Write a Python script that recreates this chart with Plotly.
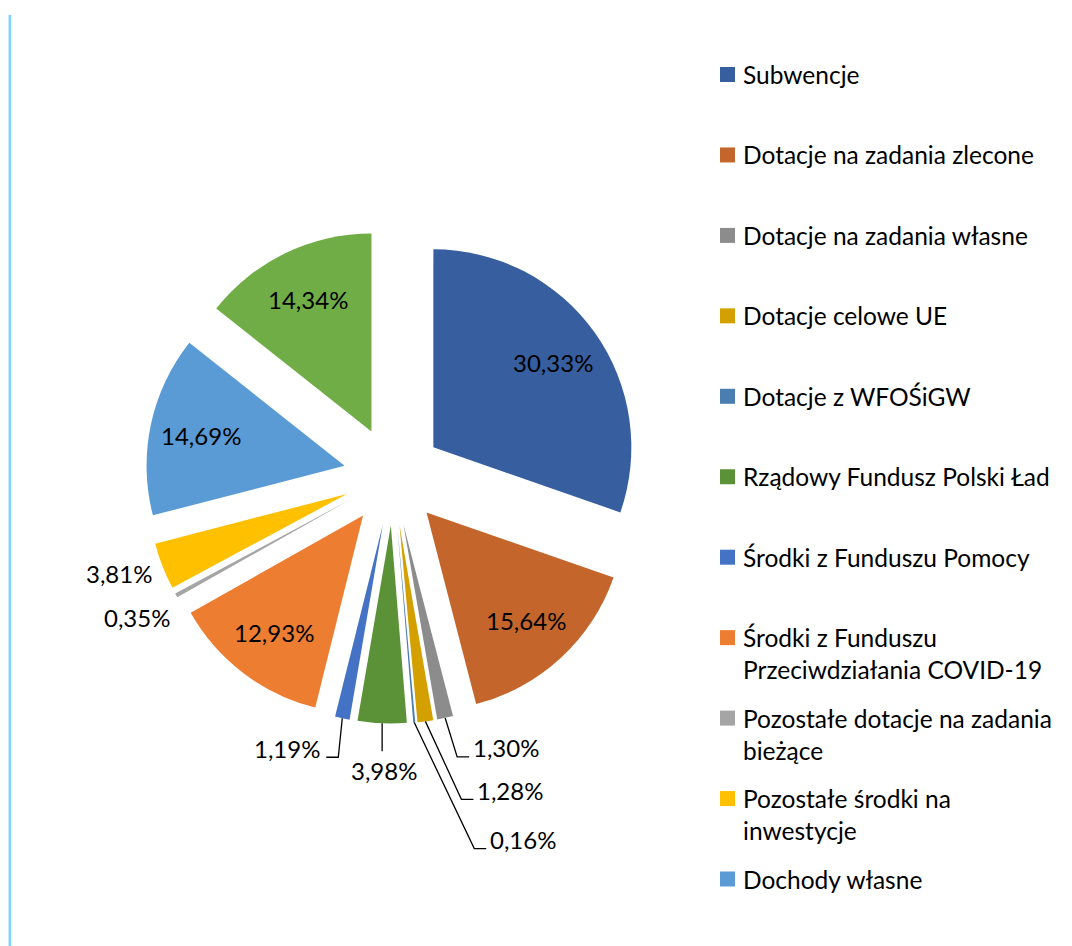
import math
import plotly.graph_objects as go

# dane (udział w dochodach, %)
kategorie = [
    'Subwencje',
    'Dotacje na zadania zlecone',
    'Dotacje na zadania własne',
    'Dotacje celowe UE',
    'Dotacje z WFOŚiGW',
    'Rządowy Fundusz Polski Ład',
    'Środki z Funduszu Pomocy',
    'Środki z Funduszu Przeciwdziałania COVID-19',
    'Pozostałe dotacje na zadania bieżące',
    'Pozostałe środki na inwestycje',
    'Dochody własne',
    'Pozostałe dochody',
]
udzialy = [30.33, 15.64, 1.30, 1.28, 0.16, 3.98, 1.19, 12.93, 0.35, 3.81, 14.69, 14.34]

# wpisy legendy (wiersze jak w oryginale), ostatni wycinek bez wpisu
legenda = [
    ['Subwencje'],
    ['Dotacje na zadania zlecone'],
    ['Dotacje na zadania własne'],
    ['Dotacje celowe UE'],
    ['Dotacje z WFOŚiGW'],
    ['Rządowy Fundusz Polski Ład'],
    ['Środki z Funduszu Pomocy'],
    ['Środki z Funduszu', 'Przeciwdziałania COVID-19'],
    ['Pozostałe dotacje na zadania', 'bieżące'],
    ['Pozostałe środki na', 'inwestycje'],
    ['Dochody własne'],
]

kolory = ['#375E9F', '#C4662B', '#8C8C8C', '#D4A000', '#4A7EB0', '#5B9238',
          '#4472C4', '#ED7D31', '#A5A5A5', '#FFC000', '#5B9BD5', '#70AD47']

W, H = 1072, 946
FONT = 'Lato'

# geometria koła (piksele)
CX, CY = 385, 468
R_DOM = 247.5
PULL = 0.25
R = R_DOM / (1 + PULL)

# etykiety poza wycinkiem: przesunięcie środka tekstu względem zewnętrznego punktu wycinka,
# oraz rodzaj linii odniesienia
etykiety_zew = {
    2: (61, 30, 'prawo'),
    3: (85, 69, 'prawo'),
    4: (109, 117, 'prawo'),
    5: (2, 47, 'dol'),
    6: (-55, 30, 'lewo'),
    8: (-39, 22, None),
    9: (-44, 7, None),
}


def px(x):
    return x / W


def py(y):
    return 1 - y / H


fig = go.Figure(go.Pie(
    labels=kategorie,
    values=udzialy,
    sort=False,
    direction='clockwise',
    rotation=0,
    pull=PULL,
    marker=dict(colors=kolory, line=dict(width=0)),
    textinfo='none',
    domain=dict(x=[px(CX - R_DOM), px(CX + R_DOM)],
                y=[py(CY + R_DOM), py(CY - R_DOM)]),
    automargin=False,
    showlegend=False,
))

# etykiety danych
suma = sum(udzialy)
kum = 0
for i, u in enumerate(udzialy):
    kat = math.radians((kum + u / 2) / suma * 360)
    kum += u
    dx, dy = math.sin(kat), -math.cos(kat)
    tekst = f'{u:.2f}%'.replace('.', ',')
    if i in etykiety_zew:
        ox, oy = CX + R_DOM * dx, CY + R_DOM * dy
        ddx, ddy, linia = etykiety_zew[i]
        xt, yt = ox + ddx, oy + ddy
        if linia == 'prawo':
            sciezka = f'M {px(ox)} {py(oy)} L {px(xt - 49)} {py(yt + 9)} L {px(xt - 37)} {py(yt + 9)}'
        elif linia == 'lewo':
            sciezka = f'M {px(ox)} {py(oy)} L {px(xt + 51)} {py(yt + 9)} L {px(xt + 39)} {py(yt + 9)}'
        elif linia == 'dol':
            sciezka = f'M {px(ox)} {py(oy)} L {px(ox)} {py(yt - 19)}'
        else:
            sciezka = None
        if sciezka:
            fig.add_shape(type='path', xref='paper', yref='paper', path=sciezka,
                          line=dict(color='#000000', width=1.3))
    else:
        xt = CX + R * PULL * dx + 0.74 * R * dx
        yt = CY + R * PULL * dy + 0.74 * R * dy
    fig.add_annotation(xref='paper', yref='paper', x=px(xt), y=py(yt),
                       xanchor='center', yanchor='middle', showarrow=False,
                       text=tekst, font=dict(family=FONT, size=24, color='black'))

# własna legenda
y0, krok, wiersz = 66.5, 80.45, 32
for i, (linie, kol) in enumerate(zip(legenda, kolory)):
    yc = y0 + i * krok
    fig.add_shape(type='rect', xref='paper', yref='paper',
                  x0=px(712), x1=px(727), y0=py(yc - 7.5), y1=py(yc + 7.5),
                  fillcolor=kol, line=dict(width=0))
    for k, t in enumerate(linie):
        fig.add_annotation(xref='paper', yref='paper', x=px(733), y=py(yc + k * wiersz),
                           xanchor='left', yanchor='middle', showarrow=False,
                           text=t, font=dict(family=FONT, size=24.5, color='black'))

# jasnoniebieska krawędź po lewej
fig.add_shape(type='line', xref='paper', yref='paper', x0=px(0), x1=px(0),
              y0=0, y1=py(7), line=dict(color='#DCEFFF', width=6))
fig.add_shape(type='line', xref='paper', yref='paper', x0=px(2), x1=px(2),
              y0=0, y1=py(7), line=dict(color='#7FD3FF', width=2.5))

fig.update_layout(
    width=W, height=H,
    margin=dict(l=0, r=0, t=0, b=0),
    paper_bgcolor='white',
    font=dict(family=FONT),
)

fig.write_html('out.html')
